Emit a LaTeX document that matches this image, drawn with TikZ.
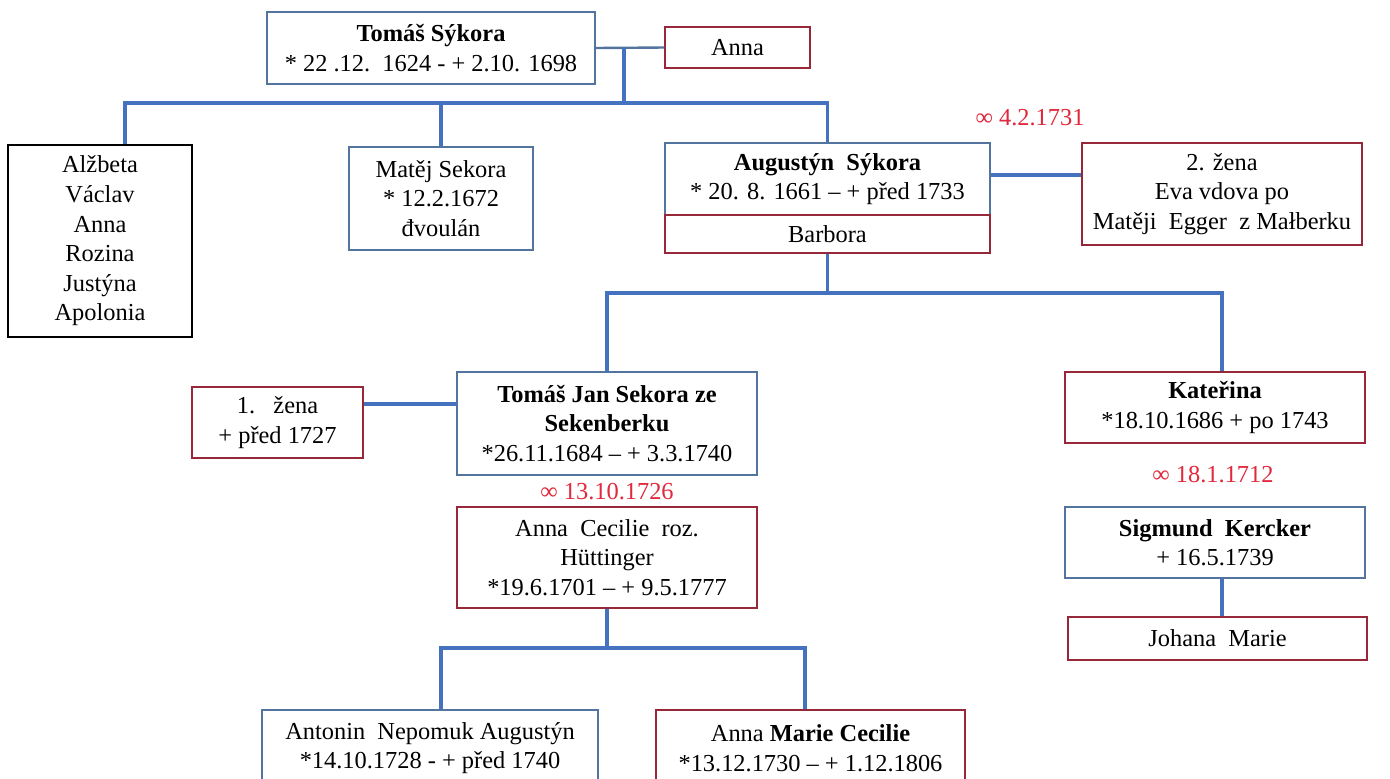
\documentclass[tikz,border=0pt]{standalone}
\usepackage{fontspec}
\setmainfont{Liberation Serif}
\definecolor{conn}{RGB}{68,114,190}
\definecolor{bblue}{RGB}{84,116,160}
\definecolor{bred}{RGB}{150,40,58}
\definecolor{tred}{RGB}{225,40,60}
\tikzset{
  person/.style={draw, fill=white, align=center, inner sep=0pt, line width=0.75pt,
    font=\fontsize{12.2}{14.8}\selectfont},
  pblue/.style={person, draw=bblue},
  pred/.style={person, draw=bred},
  pblack/.style={person, draw=black},
  link/.style={draw=conn, line width=1.6pt},
  thinlink/.style={draw=bblue, line width=1.2pt},
  wed/.style={text=tred, font=\fontsize{12.2}{14.8}\selectfont, inner sep=0pt}
}
\begin{document}
\begin{tikzpicture}[x=0.5pt, y=-0.5pt]
\useasboundingbox[fill=white] (0,0) rectangle (1390,778);
% generation 1
\node[pblue, minimum width=164pt, minimum height=36pt] (tomas) at (431,48) {\textbf{Tomáš Sýkora}\\* 22 .12.\ \ 1624 - + 2.10. 1698};
\node[pred, minimum width=72.5pt, minimum height=20.5pt] (anna) at (737.5,47.5) {Anna};
% generation 2
\node[pblack, minimum width=92pt, minimum height=96pt] (alz) at (100,241) {Alžbeta\\Václav\\Anna\\Rozina\\Justýna\\Apolonia};
\node[pblue, minimum width=92pt, minimum height=51.5pt] (mat) at (441,198.5) {Matěj Sekora\\* 12.2.1672\\đvoulán};
\node[pblue, minimum width=162.5pt, minimum height=36pt] (aug) at (827.5,179) {\textbf{Augustýn\ \ Sýkora}\\* 20. 8. 1661 -- + před 1733};
\node[pred, minimum width=162.5pt, minimum height=19pt] (bar) at (827.5,234) {Barbora};
\node[pred, minimum width=140pt, minimum height=51pt] (zena2) at (1222,194) {2. žena\\Eva vdova po\\Matěji\ \ Egger\ \ z Małberku};
\node[wed] (m1) at (1030,118) {∞ 4.2.1731};
% generation 3
\node[pblue, minimum width=150pt, minimum height=51.5pt] (tj) at (607,423.5) {\textbf{Tomáš Jan Sekora ze}\\\textbf{Sekenberku}\\*26.11.1684 -- + 3.3.1740};
\node[pred, minimum width=85.5pt, minimum height=35.5pt] (zena1) at (277.5,422.5) {1.\ \ \ žena\\+ před 1727};
\node[wed] (m2) at (607,492) {∞ 13.10.1726};
\node[pred, minimum width=150pt, minimum height=50.5pt] (acec) at (607,557.5) {Anna\ \ Cecilie\ \ roz.\\Hüttinger\\*19.6.1701 -- + 9.5.1777};
\node[pred, minimum width=150pt, minimum height=35.5pt] (kat) at (1215,407.5) {\textbf{Kateřina}\\*18.10.1686 + po 1743};
\node[wed] (m3) at (1213,475) {∞ 18.1.1712};
\node[pblue, minimum width=150pt, minimum height=35.5pt] (sig) at (1215,542.5) {\textbf{Sigmund\ \ Kercker}\\+ 16.5.1739};
\node[pred, minimum width=149.5pt, minimum height=21.5pt] (joh) at (1217.5,638.5) {Johana\ \ Marie};
% generation 4
\node[pblue, minimum width=168pt, minimum height=38pt] (ant) at (430,748) {Antonin\ \ Nepomuk Augustýn\\*14.10.1728 - + před 1740};
\node[pred, minimum width=154.5pt, minimum height=38pt] (amc) at (810.5,748) {Anna \textbf{Marie Cecilie}\\*13.12.1730 -- + 1.12.1806};
% connectors
\coordinate (j1) at (624,47.5);
\coordinate (b1) at (624,103);
\coordinate (b2) at (827.5,293);
\coordinate (b3) at (607,648);
\draw[thinlink] (tomas.east) -- (anna.west);
\draw[link] (j1) -- (b1);
\draw[link] ([xshift=12.5pt]alz.north) |- (b1 -| aug.north) -- (aug.north);
\draw[link] (mat.north) -- (mat.north |- b1);
\draw[link] ([yshift=2pt]aug.east) -- ([yshift=2pt]aug.east -| zena2.west);
\draw[link] (bar.south) -- (b2);
\draw[link] (tj.north) |- ([xshift=3.5pt]b2 -| kat.north) -- ([xshift=3.5pt]kat.north);
\draw[link] ([yshift=9.25pt]zena1.east) -- ([yshift=9.25pt]zena1.east -| tj.west);
\draw[link] (acec.south) -- (b3);
\draw[link] ([xshift=5.5pt]ant.north) |- ([xshift=-2.75pt]b3 -| amc.north) -- ([xshift=-2.75pt]amc.north);
\draw[link] ([xshift=3.5pt]sig.south) -- ([xshift=3.5pt]sig.south |- joh.north);
\end{tikzpicture}
\end{document}
